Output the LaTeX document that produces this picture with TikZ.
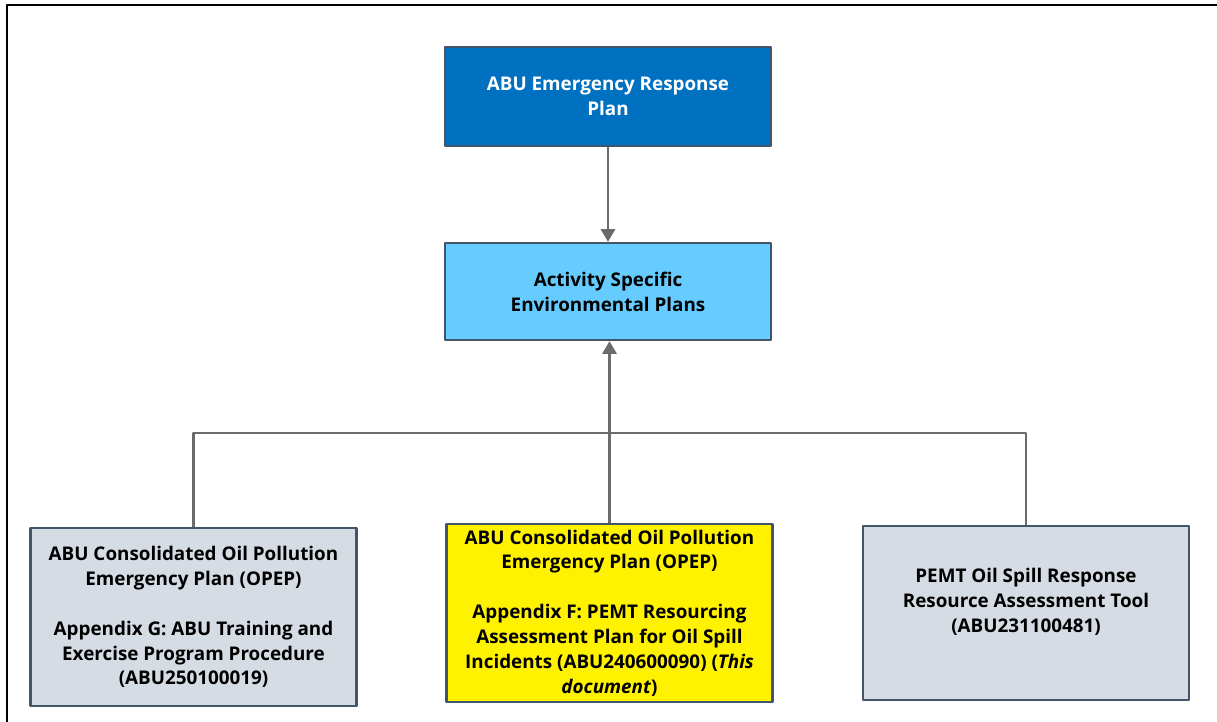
\documentclass[tikz,border=0pt]{standalone}
\usepackage{fontspec}
\setmainfont{Open Sans}
\usetikzlibrary{arrows.meta}
\definecolor{erpblue}{HTML}{0070C0}
\definecolor{aseblue}{HTML}{66CCFF}
\definecolor{opepgray}{HTML}{D6DCE4}
\definecolor{boxedge}{HTML}{44546A}
\definecolor{linkgray}{HTML}{6B6B6B}
\begin{document}
\begin{tikzpicture}[x=0.025cm,y=-0.025cm,line join=round,>={Triangle[width=10pt,length=9pt]},
	font=\bfseries\fontsize{13.4}{17.7}\selectfont,
	box/.style={draw=boxedge,line width=1.6pt,align=center,minimum width=8.15cm,inner sep=2pt},
	link/.style={draw=linkgray,line width=1.8pt}]
	\useasboundingbox (0,0) rectangle (1217,722);
	\draw[line width=1.8pt] (7,722)--(7,5)--(1217,5);
	\node[box,fill=erpblue,text=white,minimum height=2.475cm] (erp) at (608,96.5) {ABU Emergency Response\\Plan};
	\node[box,fill=aseblue,minimum height=2.425cm] (asep) at (608,291.5) {Activity Specific\\Environmental Plans};
	\node[box,fill=opepgray,minimum height=4.45cm] (opepg) at (193.5,617) {ABU Consolidated Oil Pollution\\Emergency Plan (OPEP)\\[17.7pt]Appendix G: ABU Training and\\Exercise Program Procedure\\(ABU250100019)};
	\node[box,fill=yellow,minimum height=4.45cm] (opepf) at (609.5,613) {ABU Consolidated Oil Pollution\\Emergency Plan (OPEP)\\[17.7pt]Appendix F: PEMT Resourcing\\Assessment Plan for Oil Spill\\Incidents (ABU240600090) (\textit{This}\\\textit{document})};
	\node[box,fill=opepgray,minimum height=4.35cm] (pemt) at (1026,613) {PEMT Oil Spill Response\\Resource Assessment Tool\\(ABU231100481)\\\mbox{}};
	\coordinate (bus) at (608,433);
	\draw[link,->] (erp) -- (asep);
	\draw[link,->] (opepf.north) -- (opepf.north |- asep.south);
	\draw[link] (opepg.north) |- (bus) -| (pemt.north);
\end{tikzpicture}
\end{document}
